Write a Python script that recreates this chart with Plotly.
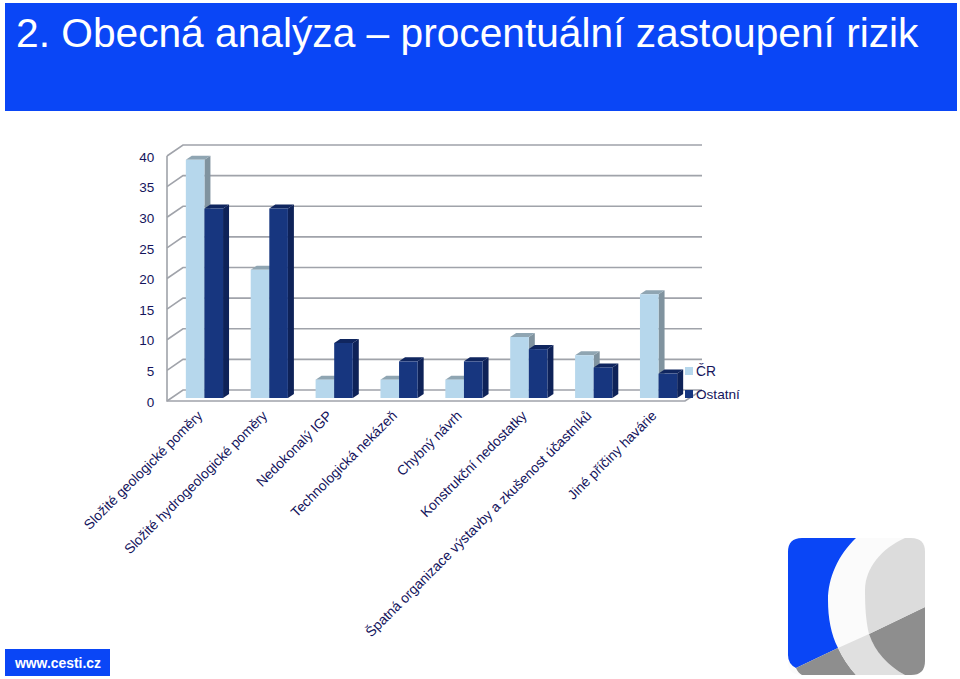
import plotly.graph_objects as go

W, H = 960, 679

categories = [
    "Složité geologické poměry",
    "Složité hydrogeologické poměry",
    "Nedokonalý IGP",
    "Technologická nekázeň",
    "Chybný návrh",
    "Konstrukční nedostatky",
    "Špatná organizace výstavby a zkušenost účastníků",
    "Jiné příčiny havárie",
]
cr_values = [39, 21, 3, 3, 3, 10, 7, 17]
ostatni_values = [31, 31, 9, 6, 6, 8, 5, 4]
y_ticks = [0, 5, 10, 15, 20, 25, 30, 35, 40]

TITLE = "2. Obecná analýza – procentuální zastoupení rizik"
SITE = "www.cesti.cz"

FONT = "Liberation Sans, Arial, sans-serif"
INK = "#14145c"
LIGHT, LIGHT_SIDE, LIGHT_TOP = "#b6d7ec", "#80939f", "#8fa5b2"
DARK, DARK_SIDE, DARK_TOP = "#17367f", "#0e2258", "#10265f"
GRID = "#a0a3aa"

# Pixel geometry of the plot
X0, X1 = 172.0, 691.0     # category axis
Y_ZERO, Y_FORTY = 398.0, 153.6
PX_PER_CAT = (X1 - X0) / len(categories)
PX_PER_UNIT = (Y_ZERO - Y_FORTY) / 40
BAR_W = 18.6 / PX_PER_CAT
DX = 6.0 / PX_PER_CAT     # bar depth, in axis units
DY = 4.0 / PX_PER_UNIT


def fx(px):
    return px / W


def fy(py):
    return 1 - py / H


def paper_path(points, close=True):
    s = "M" + " L".join(f"{fx(x):.5f},{fy(y):.5f}" for x, y in points)
    return s + (" Z" if close else "")


shapes = []

# Blue title band and site badge
for (x0, y0, x1, y1) in [(5, 3, 957, 111), (5, 649, 110, 676)]:
    shapes.append(dict(type="rect", xref="paper", yref="paper", layer="below",
                       x0=fx(x0), x1=fx(x1), y0=fy(y0), y1=fy(y1),
                       fillcolor="#0a46f6", line_width=0))

# 3D wall and floor
FRONT_L, BACK_L, BACK_R, FRONT_R = 167, 183, 702, 685
for t in y_ticks:
    y_back = 390 - t * (390 - 145) / 40
    y_front = 401 - t * (401 - 156) / 40
    shapes.append(dict(type="path", xref="paper", yref="paper", layer="below",
                       path=paper_path([(FRONT_L, y_front), (BACK_L, y_back), (BACK_R, y_back)], close=False),
                       line=dict(color=GRID, width=1.6)))
shapes.append(dict(type="path", xref="paper", yref="paper", layer="below",
                   path=paper_path([(FRONT_L, 156), (FRONT_L, 401), (FRONT_R, 401), (BACK_R, 390)], close=False),
                   line=dict(color=GRID, width=1.6)))


def depth_faces(i, value, left, side_colour, top_colour):
    right = left + BAR_W
    side = (f"M{right},0 L{right + DX},{DY} L{right + DX},{value + DY} L{right},{value} Z")
    top = (f"M{left},{value} L{left + DX},{value + DY} L{right + DX},{value + DY} L{right},{value} Z")
    return [
        dict(type="path", xref="x", yref="y", layer="between", path=side,
             fillcolor=side_colour, line_width=0),
        dict(type="path", xref="x", yref="y", layer="between", path=top,
             fillcolor=top_colour, line_width=0),
    ]


for i, v in enumerate(cr_values):
    shapes += depth_faces(i, v, i - BAR_W, LIGHT_SIDE, LIGHT_TOP)
for i, v in enumerate(ostatni_values):
    shapes += depth_faces(i, v, i, DARK_SIDE, DARK_TOP)

# Legend swatches
shapes.append(dict(type="rect", xref="paper", yref="paper", x0=fx(685), x1=fx(693), y0=fy(375), y1=fy(367),
                   fillcolor=LIGHT, line_width=0))
shapes.append(dict(type="rect", xref="paper", yref="paper", x0=fx(685), x1=fx(693), y0=fy(398), y1=fy(390),
                   fillcolor=DARK, line_width=0))

# Logo
logo = [
    ("#fbfbfb", "M802,538 L911,538 Q925,538 925,552 L925,661 Q925,675 911,675 L802,675 Q788,675 788,661 L788,552 Q788,538 802,538 Z"),
    ("#0a46f6", "M802,538 L856,538 C838,555 828,578 828,600 C828,618 831,634 838,648 L796,668 Q788,664 788,655 L788,552 Q788,538 802,538 Z"),
    ("#8e8e8e", "M796,668 L838,648 Q845,663 856,675 L802,675 Q798,673 796,668 Z"),
    ("#e0e0e0", "M838,648 L869,634 C875,652 888,666 905,675 L856,675 Q845,663 838,648 Z"),
    ("#8e8e8e", "M869,634 L925,607 L925,661 Q925,675 911,675 L905,675 C888,666 875,652 869,634 Z"),
    ("#dcdcdc", "M905,538 L911,538 Q925,538 925,552 L925,607 L869,634 C866,622 865,608 865,590 C865,568 882,548 905,538 Z"),
]


def to_paper(path):
    out = []
    for tok in path.split():
        cmd = tok[0] if tok[0].isalpha() else ""
        body = tok[1:] if cmd else tok
        if not body:
            out.append(cmd)
            continue
        a, b = body.split(",")
        out.append(f"{cmd}{fx(float(a)):.5f},{fy(float(b)):.5f}")
    return " ".join(out)


for colour, path in logo:
    shapes.append(dict(type="path", xref="paper", yref="paper", path=to_paper(path),
                       fillcolor=colour, line_width=0))

fig = go.Figure()
x_idx = list(range(len(categories)))
fig.add_bar(x=x_idx, y=cr_values, name="ČR", marker=dict(color=LIGHT, line_width=0))
fig.add_bar(x=x_idx, y=ostatni_values, name="Ostatní", marker=dict(color=DARK, line_width=0))
# Invisible trace that keeps the front-plane value axis alive
fig.add_scatter(x=[x_idx[0], x_idx[0]], y=[y_ticks[0], y_ticks[-1]], yaxis="y2", mode="none",
                showlegend=False, hoverinfo="skip")

annotations = [
    dict(text=TITLE, xref="paper", yref="paper", x=fx(14), y=fy(33), xanchor="left", yanchor="middle",
         showarrow=False, font=dict(family=FONT, size=40.7, color="white")),
    dict(text=f"<b>{SITE}</b>", xref="paper", yref="paper", x=fx(57.5), y=fy(662.5), xanchor="center", yanchor="middle",
         showarrow=False, font=dict(family=FONT, size=13.9, color="white")),
    dict(text="ČR", xref="paper", yref="paper", x=fx(694), y=fy(371), xanchor="left", yanchor="middle",
         showarrow=False, font=dict(family=FONT, size=13.8, color=INK)),
    dict(text="Ostatní", xref="paper", yref="paper", x=fx(694), y=fy(394), xanchor="left", yanchor="middle",
         showarrow=False, font=dict(family=FONT, size=13.6, color=INK)),
]

fig.update_layout(
    width=W, height=H, margin=dict(l=0, r=0, t=0, b=0, autoexpand=False),
    paper_bgcolor="white", plot_bgcolor="rgba(0,0,0,0)",
    barmode="group", bargap=1 - 2 * BAR_W, bargroupgap=0,
    showlegend=False, shapes=shapes, annotations=annotations,
    font=dict(family=FONT, color=INK),
    xaxis=dict(domain=[fx(X0), fx(X1)], range=[-0.5, len(categories) - 0.5], automargin=False,
               tickmode="array", tickvals=x_idx, ticktext=categories, tickangle=-45,
               tickfont=dict(size=13.8, color=INK), ticks="outside", ticklen=3, ticklabelshift=-6,
               tickcolor="rgba(0,0,0,0)", showgrid=False, zeroline=False, showline=False),
    yaxis=dict(domain=[fy(Y_ZERO), fy(Y_FORTY)], range=[0, 40], visible=False, fixedrange=True, automargin=False),
    yaxis2=dict(domain=[fy(402), fy(157)], range=[0, 40], anchor="free", position=fx(167), side="left", automargin=False,
                tickmode="array", tickvals=y_ticks, tickfont=dict(size=13.5, color=INK),
                ticks="outside", ticklen=10, tickcolor="rgba(0,0,0,0)",
                showgrid=False, zeroline=False, showline=False),
)

fig.write_html("out.html", config=dict(displayModeBar=False),
               post_script="document.body.style.margin='0';")
